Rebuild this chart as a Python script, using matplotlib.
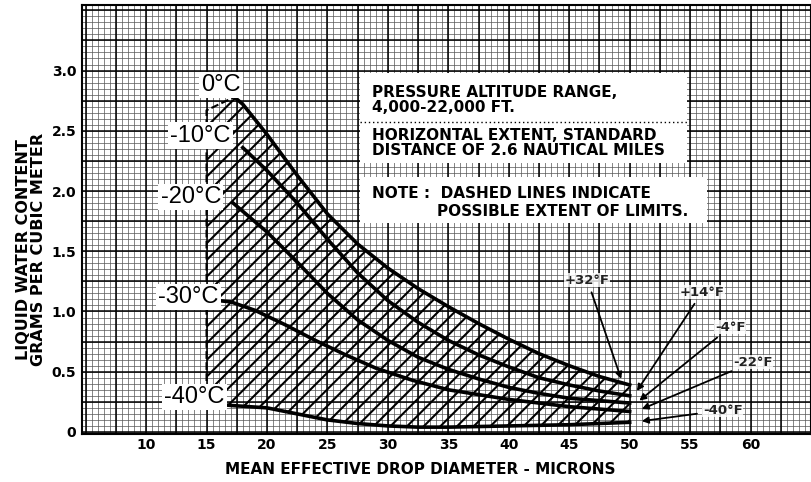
import numpy as np
import matplotlib.pyplot as plt
from matplotlib.patches import Rectangle

# envelope curves (microns, g/m^3)
x_0c = [17.3, 18, 20, 22.5, 25, 27.5, 30, 32.5, 35, 37.5, 40, 42.5, 45, 47.5, 50]
lwc_0c = [2.78, 2.72, 2.47, 2.13, 1.81, 1.56, 1.36, 1.19, 1.04, 0.90, 0.77, 0.65, 0.55, 0.46, 0.39]

x_m10 = [18, 20, 22.5, 25, 27.5, 30, 32.5, 35, 37.5, 40, 42.5, 45, 47.5, 50]
lwc_m10 = [2.36, 2.17, 1.90, 1.60, 1.32, 1.09, 0.91, 0.76, 0.64, 0.54, 0.45, 0.39, 0.34, 0.30]

x_m20 = [17.2, 20, 22.5, 25, 27.5, 30, 32.5, 35, 37.5, 40, 42.5, 45, 47.5, 50]
lwc_m20 = [1.90, 1.66, 1.41, 1.15, 0.93, 0.76, 0.62, 0.52, 0.44, 0.37, 0.32, 0.28, 0.26, 0.24]

x_m30 = [15, 17, 19, 21.5, 24, 26.5, 29, 32, 35, 40, 45, 50]
lwc_m30 = [1.10, 1.08, 1.01, 0.89, 0.76, 0.64, 0.53, 0.43, 0.35, 0.27, 0.21, 0.17]

x_m40 = [15, 17, 20, 22.5, 25, 27.5, 30, 32.5, 35, 40, 45, 50]
lwc_m40 = [0.24, 0.22, 0.20, 0.15, 0.10, 0.07, 0.05, 0.04, 0.04, 0.05, 0.06, 0.08]

# dashed "possible extent" edge on the left
x_ext = [15, 15, 17.3]
lwc_ext = [0.24, 2.67, 2.78]

temp_labels = ['0°C', '-10°C', '-20°C', '-30°C', '-40°C']
f_labels = ['+32°F', '+14°F', '-4°F', '-22°F', '-40°F']

x_ticks = [10, 15, 20, 25, 30, 35, 40, 45, 50, 55, 60]
y_ticks = [0, 0.5, 1.0, 1.5, 2.0, 2.5, 3.0]
y_tick_labels = ['0', '0.5', '1.0', '1.5', '2.0', '2.5', '3.0']

plt.rcParams['hatch.linewidth'] = 1.5

fig = plt.figure(figsize=(8.11, 4.82), dpi=100)
ax = fig.add_axes([82 / 811, 48 / 482, 729 / 811, 429 / 482])
ax.set_xlim(4.7, 65.0)
ax.set_ylim(-0.017, 3.544)

# graph paper grid
for gx in np.arange(5, 65.01, 0.5):
    ax.axvline(gx, color='#555555', lw=0.5, zorder=0)
for gy in np.arange(0, 3.56, 0.05):
    ax.axhline(gy, color='#555555', lw=0.5, zorder=0)
for gx in np.arange(5, 65.01, 2.5):
    ax.axvline(gx, color='black', lw=1.1, zorder=0)
for gy in np.arange(0, 3.56, 0.25):
    ax.axhline(gy, color='black', lw=1.1, zorder=0)

# hatched envelope
poly_x = x_ext + x_0c + x_m40[::-1]
poly_y = lwc_ext + lwc_0c + lwc_m40[::-1]
ax.fill(poly_x, poly_y, facecolor='none', edgecolor='black', hatch='//', linewidth=0, zorder=1)
ax.plot(x_ext, lwc_ext, color='black', lw=1.5, ls='--', zorder=2)

for xs, ys in [(x_0c, lwc_0c), (x_m10, lwc_m10), (x_m20, lwc_m20), (x_m30, lwc_m30), (x_m40, lwc_m40)]:
    ax.plot(xs, ys, color='black', lw=2.6, zorder=3)

# temperature labels
label_pos = [(16.2, 2.88), (14.5, 2.46), (13.7, 1.95), (13.5, 1.12), (14.0, 0.29)]
for lab, (lx, ly) in zip(temp_labels, label_pos):
    ax.text(lx, ly, lab, fontsize=17, family='Liberation Sans', ha='center', va='center', zorder=5,
            bbox=dict(facecolor='white', edgecolor='none', pad=1.5))

# fahrenheit callouts
f_text = [(46.5, 1.26), (56.0, 1.16), (58.3, 0.87), (60.2, 0.58), (57.7, 0.18)]
f_tip = [(49.3, 0.44), (50.6, 0.34), (50.8, 0.26), (51.0, 0.19), (51.0, 0.09)]
for lab, tp, tip in zip(f_labels, f_text, f_tip):
    ax.annotate(lab, xy=tip, xytext=tp, fontsize=9.5, fontweight='bold', color='#222222',
                ha='center', va='center', zorder=5,
                bbox=dict(facecolor='white', edgecolor='none', pad=0.3, alpha=0.8),
                arrowprops=dict(arrowstyle='-|>', color='black', lw=1.3, shrinkA=4, shrinkB=0))

# note boxes
for (bx0, by0, bx1, by1) in [(360, 73, 687, 163), (360, 177, 707, 223)]:
    fig.patches.append(Rectangle((bx0 / 811, 1 - by1 / 482), (bx1 - bx0) / 811, (by1 - by0) / 482,
                                 transform=fig.transFigure, facecolor='white', edgecolor='none', zorder=4))
fig.add_artist(plt.Line2D([360 / 811, 687 / 811], [1 - 122 / 482, 1 - 122 / 482], transform=fig.transFigure,
                          color='black', lw=1.0, ls=(0, (1, 2)), zorder=5))
fig.text(372 / 811, 1 - 100 / 482, 'PRESSURE ALTITUDE RANGE,\n4,000-22,000 FT.', fontsize=11,
         fontweight='bold', va='center', linespacing=0.95, zorder=6)
fig.text(372 / 811, 1 - 143 / 482, 'HORIZONTAL EXTENT, STANDARD\nDISTANCE OF 2.6 NAUTICAL MILES', fontsize=11,
         fontweight='bold', va='center', linespacing=0.95, zorder=6)
fig.text(372 / 811, 1 - 193 / 482, 'NOTE :  DASHED LINES INDICATE', fontsize=11,
         fontweight='bold', va='center', zorder=6)
fig.text(437 / 811, 1 - 212 / 482, 'POSSIBLE EXTENT OF LIMITS.', fontsize=11,
         fontweight='bold', va='center', zorder=6)

ax.set_xticks(x_ticks)
ax.set_xticklabels([str(t) for t in x_ticks], fontsize=10, fontweight='bold')
ax.set_yticks(y_ticks)
ax.set_yticklabels(y_tick_labels, fontsize=10, fontweight='bold')
ax.tick_params(axis='x', length=0, pad=3)
ax.tick_params(axis='y', length=0, pad=4)
for s in ax.spines.values():
    s.set_linewidth(1.5)

ax.set_xlabel('MEAN EFFECTIVE DROP DIAMETER - MICRONS', fontsize=11, fontweight='bold')
ax.xaxis.set_label_coords(0.464, -0.065)
ax.set_ylabel('LIQUID WATER CONTENT\nGRAMS PER CUBIC METER', fontsize=11.5, fontweight='bold', linespacing=1.0)
ax.yaxis.set_label_coords(-0.05, 0.43)

fig.savefig('out.png', dpi=100)
